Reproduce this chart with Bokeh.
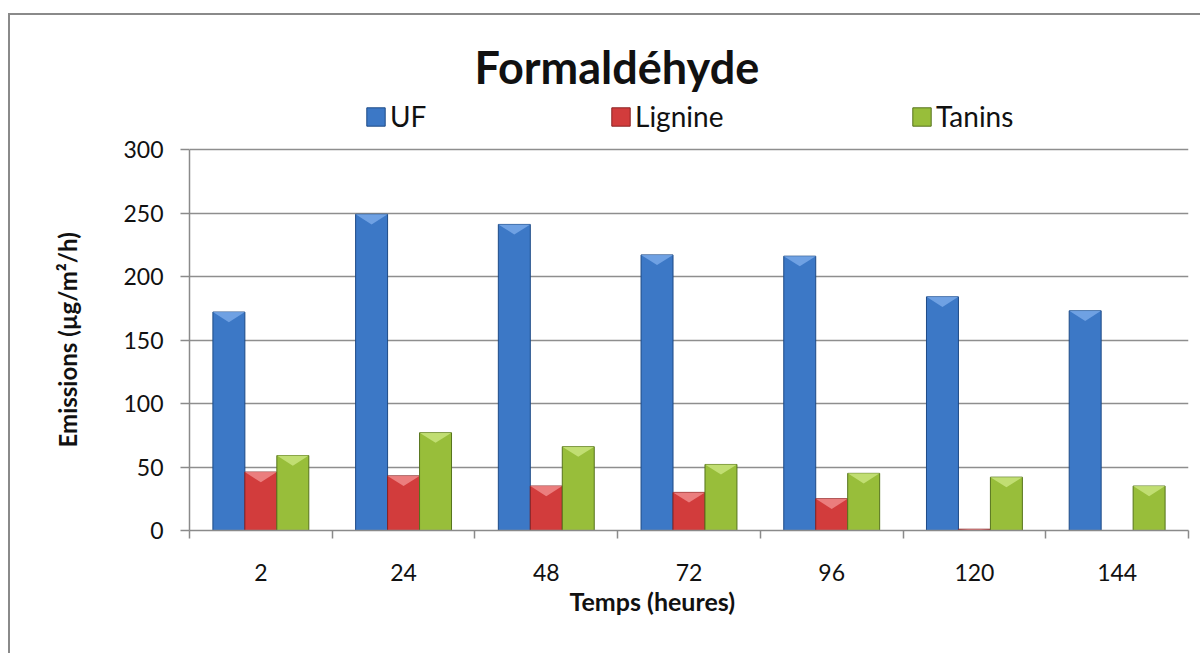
from bokeh.plotting import figure
from bokeh.models import (ColumnDataSource, FixedTicker, Legend, LegendItem, Range1d,
                          LinearAxis, Grid, Title)
from bokeh.embed import file_html
from bokeh.resources import INLINE

# ---- data ----
times = ["2", "24", "48", "72", "96", "120", "144"]
uf = [172, 249, 241, 217, 216, 184, 173]
lignine = [46, 43, 35, 30, 25, 1, 0]
tanins = [59, 77, 66, 52, 45, 42, 35]
series_names = ["UF", "Lignine", "Tanins"]
y_ticks = [0, 50, 100, 150, 200, 250, 300]
title_text = "Formaldéhyde"
x_title = "Temps (heures)"
y_title = "Emissions (µg/m²/h)"

# ---- styles ----
FONT = "Lato"
fills = ["#3c78c6", "#d23c3c", "#98be3a"]
tops = ["#78a8e8", "#f08a8a", "#c8e47c"]
edges = ["#1d4a86", "#8a2222", "#56731c"]
bar_w = 0.224
offsets = [-bar_w, 0.0, bar_w]
bevel = 8.0
y_max_axis = 300
y_top = 340.16   # frame extends above the axis to host the legend
legend_x = [175, 420, 721]

n = len(times)
centers = [i + 0.5 for i in range(n)]

p = figure(width=1192, height=640, output_backend="svg", toolbar_location=None,
           x_range=Range1d(0, n), y_range=Range1d(0, y_top),
           min_border_left=179, min_border_right=14, min_border_top=83, min_border_bottom=125,
           x_axis_type=None, y_axis_type=None)
p.styles = {"border-left": "2px solid #8a8a8a", "border-top": "2px solid #8a8a8a",
            "margin-top": "13px", "margin-left": "8px"}
p.outline_line_color = None
p.background_fill_color = "white"
p.border_fill_color = "white"

yax = LinearAxis(ticker=FixedTicker(ticks=y_ticks), bounds=(0, y_max_axis))
yax.axis_line_color = "#8a8a8a"
yax.axis_line_width = 1.5
yax.major_tick_line_color = "#8a8a8a"
yax.major_tick_line_width = 1.5
yax.major_tick_out = 9
yax.major_tick_in = 0
yax.minor_tick_line_color = None
yax.major_label_standoff = 17
yax.major_label_text_font = FONT
yax.major_label_text_font_size = "23px"
yax.major_label_text_color = "#111111"
p.add_layout(yax, "left")

xax = LinearAxis(ticker=FixedTicker(ticks=centers, minor_ticks=list(range(n + 1))))
xax.major_label_overrides = {c: t for c, t in zip(centers, times)}
xax.axis_line_color = "#8a8a8a"
xax.axis_line_width = 1.5
xax.major_tick_line_color = None
xax.major_tick_out = 0
xax.major_tick_in = 0
xax.minor_tick_line_color = "#8a8a8a"
xax.minor_tick_line_width = 1.5
xax.minor_tick_out = 8
xax.minor_tick_in = 0
xax.major_label_standoff = 25
xax.major_label_text_font = FONT
xax.major_label_text_font_size = "23px"
xax.major_label_text_color = "#111111"
p.add_layout(xax, "below")

g = Grid(dimension=1, ticker=FixedTicker(ticks=y_ticks))
g.grid_line_color = "#8e8e8e"
g.grid_line_width = 1.5
p.add_layout(g)

renderers = []
for s, vals in enumerate([uf, lignine, tanins]):
    xs = [c + offsets[s] for c in centers]
    src = ColumnDataSource(dict(x=xs, top=vals, t=times))
    r = p.vbar(x="x", top="top", bottom=0, width=bar_w, source=src,
               fill_color=fills[s], line_color=edges[s], line_width=1)
    renderers.append(r)
    pxs, pys = [], []
    for x, v in zip(xs, vals):
        if v <= 0:
            continue
        d = min(bevel, v)
        pxs.append([x - bar_w / 2, x + bar_w / 2, x])
        pys.append([v, v, v - d])
    p.patches(pxs, pys, fill_color=tops[s], line_color=None, fill_alpha=0.85)

for nm, r, lx in zip(series_names, renderers, legend_x):
    lg = Legend(items=[LegendItem(label=nm, renderers=[r])],
                orientation="horizontal", location=(lx, 397))
    lg.glyph_width = 23
    lg.glyph_height = 23
    lg.label_standoff = 3
    lg.spacing = 0
    lg.padding = 0
    lg.margin = 0
    lg.border_line_color = None
    lg.background_fill_alpha = 0
    lg.label_text_font = FONT
    lg.label_text_font_size = "28px"
    lg.label_text_color = "#111111"
    p.add_layout(lg, "center")

p.add_layout(Title(text=title_text, align="left", offset=285, standoff=9,
                   text_font=FONT, text_font_style="bold", text_font_size="45px",
                   text_color="#111111"), "above")
p.add_layout(Title(text=x_title, align="left", offset=380, standoff=0,
                   text_font=FONT, text_font_style="bold", text_font_size="25px",
                   text_color="#111111"), "below")
p.add_layout(Title(text=y_title, align="left", offset=83, standoff=78,
                   text_font=FONT, text_font_style="bold", text_font_size="24px",
                   text_color="#111111"), "left")

open("out.html", "w").write(file_html(p, INLINE))
